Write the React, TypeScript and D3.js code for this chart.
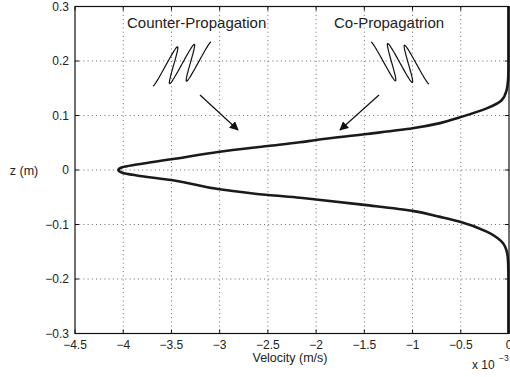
import React from "react";
import * as d3 from "d3";

// Velocity profile, velocity in units of 1e-3 m/s, z in metres
const zValues = [
  0.3, 0.2, 0.175, 0.165, 0.147, 0.128, 0.113, 0.0967, 0.086, 0.0765, 0.0655,
  0.055, 0.0508, 0.044, 0.0336, 0.0196, 0.01, 0.005, 0, -0.005, -0.01, -0.0183,
  -0.0354, -0.0459, -0.0508, -0.054, -0.064, -0.075, -0.086, -0.0948, -0.113,
  -0.1315, -0.152, -0.17, -0.2, -0.3,
];
const velocityValues = [
  -0.006, -0.006, -0.007, -0.01, -0.024, -0.076, -0.231, -0.508, -0.715, -1.0,
  -1.5, -2.0, -2.17, -2.5, -3.0, -3.5, -3.86, -4.01, -4.05, -4.01, -3.86, -3.5,
  -3.0, -2.5, -2.17, -2.0, -1.5, -1.0, -0.715, -0.508, -0.231, -0.076, -0.02,
  -0.009, -0.006, -0.006,
];

const xTicks = [-4.5, -4, -3.5, -3, -2.5, -2, -1.5, -1, -0.5, 0];
const yTicks = [-0.3, -0.2, -0.1, 0, 0.1, 0.2, 0.3];

const labels = {
  x: "Velocity (m/s)",
  y: "z (m)",
  counter: "Counter-Propagation",
  co: "Co-Propagatrion",
};

const W = 510;
const H = 377;
const left = 75;
const right = 509;
const top = 6.5;
const bottom = 333.5;
const FONT = "'Liberation Sans', Arial, sans-serif";

const fmt = (v: number) => {
  const s = String(Math.abs(v));
  return v < 0 ? "\u2212" + s : s;
};

// Small decorative wave packet drawn along axis a with displacement b
function wavePath(cx: number, cy: number, ax: number, ay: number, bx: number, by: number, periods: number) {
  const pts: [number, number][] = [];
  const n = 160;
  for (let i = 0; i <= n; i++) {
    const t = -1 + (2 * i) / n;
    const s = Math.sin(Math.PI * periods * t);
    pts.push([cx + t * ax + s * bx, cy + t * ay + s * by]);
  }
  return d3.line().curve(d3.curveLinear)(pts) as string;
}

export default function App() {
  const x = d3.scaleLinear().domain([-4.5, 0]).range([left, right]);
  const y = d3.scaleLinear().domain([-0.3, 0.3]).range([bottom, top]);

  const profile = zValues.map((z, i) => [x(velocityValues[i]), y(z)] as [number, number]);
  const linePath = d3.line().curve(d3.curveMonotoneY)(profile) as string;

  const tickLen = 4;

  return (
    <svg
      width={W}
      height={H}
      style={{ position: "fixed", left: 0, top: 0, background: "#fff" }}
      fontFamily={FONT}
    >
      <defs>
        <marker id="head" viewBox="0 0 10 10" refX="9" refY="5" markerWidth="9" markerHeight="9" orient="auto" markerUnits="userSpaceOnUse">
          <path d="M0,0 L10,5 L0,10 z" fill="#111" />
        </marker>
      </defs>
      <rect x={0} y={0} width={W} height={H} fill="#fff" />

      {/* grid */}
      <g stroke="#444" strokeWidth={0.8} strokeDasharray="1,3.2">
        {xTicks.slice(1, -1).map((t) => (
          <line key={"gx" + t} x1={x(t)} x2={x(t)} y1={top} y2={bottom} />
        ))}
        {yTicks.slice(1, -1).map((t) => (
          <line key={"gy" + t} x1={left} x2={right} y1={y(t)} y2={y(t)} />
        ))}
      </g>

      {/* ticks */}
      <g stroke="#111" strokeWidth={1}>
        {xTicks.map((t) => (
          <g key={"tx" + t}>
            <line x1={x(t)} x2={x(t)} y1={bottom} y2={bottom - tickLen} />
            <line x1={x(t)} x2={x(t)} y1={top} y2={top + tickLen} />
          </g>
        ))}
        {yTicks.map((t) => (
          <g key={"ty" + t}>
            <line x1={left} x2={left + tickLen} y1={y(t)} y2={y(t)} />
            <line x1={right} x2={right - tickLen} y1={y(t)} y2={y(t)} />
          </g>
        ))}
      </g>

      {/* profile */}
      <path d={linePath} fill="none" stroke="#1a1a1a" strokeWidth={2.6} strokeLinejoin="round" />

      {/* frame */}
      <rect x={left} y={top} width={right - left} height={bottom - top} fill="none" stroke="#111" strokeWidth={1.2} />

      {/* tick labels */}
      <g fontSize={12} fill="#222" textAnchor="middle">
        {xTicks.map((t) => (
          <text key={"lx" + t} x={x(t)} y={bottom + 15}>{fmt(t)}</text>
        ))}
      </g>
      <g fontSize={12} fill="#222" textAnchor="end">
        {yTicks.map((t) => (
          <text key={"ly" + t} x={left - 6} y={y(t) + 4}>{fmt(t)}</text>
        ))}
      </g>

      <text x={290} y={362} fontSize={12.5} fill="#222" textAnchor="middle">{labels.x}</text>
      <text x={24} y={175} fontSize={12.5} fill="#222" textAnchor="middle">{labels.y}</text>
      <text x={472} y={369} fontSize={12} fill="#222">x 10</text>
      <text x={499} y={361} fontSize={8.5} fill="#222">{"\u22123"}</text>

      {/* annotations */}
      <text x={127} y={28} fontSize={15} fill="#222">{labels.counter}</text>
      <text x={334} y={28} fontSize={15} fill="#222">{labels.co}</text>

      <path d={wavePath(182, 64, 21, -3, 8, -19, 2.5)} fill="none" stroke="#111" strokeWidth={1.2} strokeLinejoin="round" />
      <path d={wavePath(400, 63, 21, 2, 8, 19, 2.5)} fill="none" stroke="#111" strokeWidth={1.2} strokeLinejoin="round" />

      <line x1={200} y1={95} x2={238} y2={130} stroke="#111" strokeWidth={1.2} markerEnd="url(#head)" />
      <line x1={379} y1={95} x2={340} y2={130} stroke="#111" strokeWidth={1.2} markerEnd="url(#head)" />
    </svg>
  );
}
